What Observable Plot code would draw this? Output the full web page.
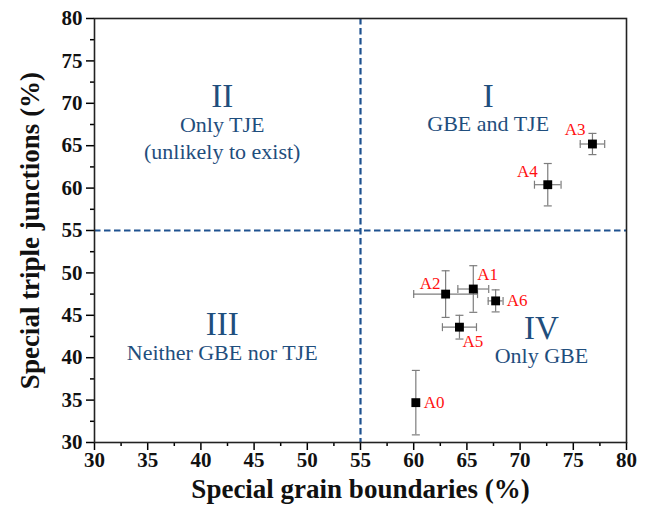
<!DOCTYPE html>
<html>
<head>
<meta charset="utf-8">
<script src="https://cdn.jsdelivr.net/npm/d3@7"></script>
<script src="https://cdn.jsdelivr.net/npm/@observablehq/plot@0.6"></script>
<style>
  html, body { margin: 0; padding: 0; background: #fff; }
</style>
</head>
<body>
<div id="chart"></div>
<script>
// Samples and their measured fractions (%), with standard deviations
const samples   = ["A0", "A1", "A2", "A3", "A4", "A5", "A6"];
const specialGB = [60.2, 65.6, 63.0, 76.8, 72.6, 64.3, 67.7];
const specialTJ = [34.7, 48.1, 47.5, 65.2, 60.4, 43.6, 46.7];
const gbError   = [0, 1.45, 3.0, 1.15, 1.25, 1.6, 0.7];
const tjError   = [3.8, 2.75, 2.75, 1.25, 2.5, 1.4, 1.3];

// Engineering thresholds separating the four regimes
const gbThreshold = [55];
const tjThreshold = [55];

// Axis ticks
const xTicks = [30, 35, 40, 45, 50, 55, 60, 65, 70, 75, 80];
const yTicks = [30, 35, 40, 45, 50, 55, 60, 65, 70, 75, 80];
const xMinor = [32.5, 37.5, 42.5, 47.5, 52.5, 57.5, 62.5, 67.5, 72.5, 77.5];
const yMinor = [32.5, 37.5, 42.5, 47.5, 52.5, 57.5, 62.5, 67.5, 72.5, 77.5];

// Quadrant annotations
const quadNumerals = ["I", "II", "III", "IV"];
const quadNumeralX = [67.0, 42.0, 42.0, 72.0];
const quadNumeralY = [70.8, 70.8, 43.9, 43.5];
const quadTexts = ["GBE and TJE", "Only TJE\n(unlikely to exist)", "Neither GBE nor TJE", "Only GBE"];
const quadTextX = [67.0, 42.0, 42.0, 72.0];
const quadTextY = [67.8, 66.05, 40.7, 40.4];

const rows = samples.map((s, i) => ({
  sample: s, gb: specialGB[i], tj: specialTJ[i], gbErr: gbError[i], tjErr: tjError[i]
}));

// Label placement around each marker: [dx, dy, anchor]
const labelPlacement = {
  A0: [8, 0, "start"], A1: [4, -14, "start"], A2: [-5, -11, "end"],
  A3: [-7, -14, "end"], A4: [-10, -13, "end"], A5: [3, 14, "start"], A6: [11, 0, "start"]
};

const serif = "'Times New Roman', 'Liberation Serif', 'DejaVu Serif', serif";
const blue = "#1f4e7d";
const barColor = "#7d7d7d";

// Error-bar caps as short line symbols
const capH = { draw(ctx) { ctx.moveTo(-4, 0); ctx.lineTo(4, 0); } };
const capV = { draw(ctx) { ctx.moveTo(0, -4); ctx.lineTo(0, 4); } };

const withX = rows.filter(d => d.gbErr > 0);

const quadNum = quadNumerals.map((t, i) => ({ t, x: quadNumeralX[i], y: quadNumeralY[i] }));
const quadTxt = quadTexts.map((t, i) => ({ t, x: quadTextX[i], y: quadTextY[i] }));

const chart = Plot.plot({
  width: 649,
  height: 512,
  marginLeft: 94,
  marginRight: 23,
  marginTop: 18,
  marginBottom: 70,
  style: `font-family: ${serif}; background: #fff;`,
  x: { domain: [30, 80] },
  y: { domain: [30, 80] },
  marks: [
    // threshold lines
    Plot.ruleX(gbThreshold, { stroke: "#1f5290", strokeWidth: 2.2, strokeDasharray: "6.5,3.5" }),
    Plot.ruleY(tjThreshold, { stroke: "#1f5290", strokeWidth: 2.2, strokeDasharray: "6.5,3.5" }),

    // axes
    Plot.axisX(xTicks, { tickSize: 8, tickPadding: 2, fontSize: 21, fontWeight: "bold", fill: "#111", label: null, strokeWidth: 1.5 }),
    Plot.axisX(xMinor, { tickSize: 4, text: null, label: null, strokeWidth: 1.5 }),
    Plot.axisY(yTicks, { tickSize: 8, tickPadding: 4, fontSize: 21, fontWeight: "bold", fill: "#111", label: null, strokeWidth: 1.5 }),
    Plot.axisY(yMinor, { tickSize: 4, text: null, label: null, strokeWidth: 1.5 }),
    Plot.frame({ stroke: "#222", strokeWidth: 1.6 }),

    // axis titles
    Plot.text(["Special grain boundaries (%)"], {
      frameAnchor: "bottom", dy: 55, text: d => d, fontSize: 27, fontWeight: "bold", fill: "#111"
    }),
    Plot.text(["Special triple junctions (%)"], {
      frameAnchor: "left", dx: -64, rotate: -90, textAnchor: "middle", text: d => d, fontSize: 27, fontWeight: "bold", fill: "#111"
    }),

    // quadrant annotations
    Plot.text(quadNum, { x: "x", y: "y", text: "t", fontSize: 33, fill: blue }),
    Plot.text(quadTxt, { x: "x", y: "y", text: "t", fontSize: 22, lineHeight: 1.23, fill: blue }),

    // error bars
    Plot.ruleX(rows, { x: "gb", y1: d => d.tj - d.tjErr, y2: d => d.tj + d.tjErr, stroke: barColor, strokeWidth: 1.2 }),
    Plot.dot(rows, { x: "gb", y: d => d.tj - d.tjErr, symbol: capH, stroke: barColor, fill: "none", strokeWidth: 1.2 }),
    Plot.dot(rows, { x: "gb", y: d => d.tj + d.tjErr, symbol: capH, stroke: barColor, fill: "none", strokeWidth: 1.2 }),
    Plot.ruleY(withX, { y: "tj", x1: d => d.gb - d.gbErr, x2: d => d.gb + d.gbErr, stroke: barColor, strokeWidth: 1.2 }),
    Plot.dot(withX, { x: d => d.gb - d.gbErr, y: "tj", symbol: capV, stroke: barColor, fill: "none", strokeWidth: 1.2 }),
    Plot.dot(withX, { x: d => d.gb + d.gbErr, y: "tj", symbol: capV, stroke: barColor, fill: "none", strokeWidth: 1.2 }),

    // sample markers
    Plot.dot(rows, { x: "gb", y: "tj", symbol: "square", r: 5, fill: "#000", stroke: "none" }),

    // sample labels
    ...rows.map(d => {
      const [dx, dy, anchor] = labelPlacement[d.sample];
      return Plot.text([d], { x: "gb", y: "tj", text: "sample", dx, dy, textAnchor: anchor, fontSize: 17, fill: "#ff1010" });
    })
  ]
});

document.getElementById("chart").appendChild(chart);
</script>
</body>
</html>
